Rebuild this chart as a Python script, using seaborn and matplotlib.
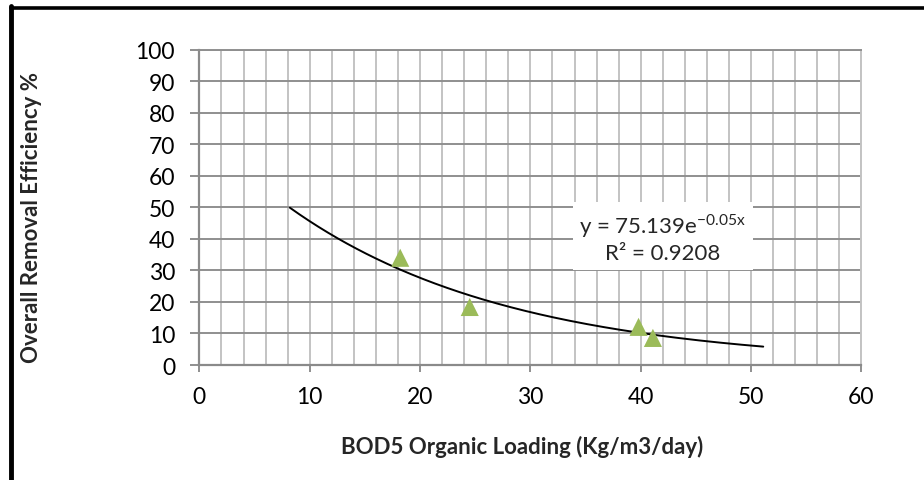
"""Overall removal efficiency vs BOD5 organic loading, Excel-style scatter with exp trendline"""

import numpy as np
import pandas as pd
import matplotlib
matplotlib.use("Agg")
import matplotlib.pyplot as plt
from matplotlib.lines import Line2D
from matplotlib.ticker import MultipleLocator
import seaborn as sns

# data
loading = [18.2, 24.5, 39.8, 41.1]
efficiency = [34.0, 18.4, 12.1, 8.6]

# trendline coefficients as printed on the chart
trend_a = 75.139
trend_b = -0.05
r_squared = 0.9208

x_ticks = [0, 10, 20, 30, 40, 50, 60]
y_ticks = [0, 10, 20, 30, 40, 50, 60, 70, 80, 90, 100]

sns.set_theme(style="white")
plt.rcParams["font.family"] = ["Lato", "DejaVu Sans"]
plt.rcParams["mathtext.fontset"] = "custom"
plt.rcParams["mathtext.rm"] = "Lato"

df = pd.DataFrame({"loading": loading, "efficiency": efficiency})

# excel forecasts the trendline 10 units both ways
trend_x = np.linspace(min(loading) - 10, max(loading) + 10, 200)
trend_df = pd.DataFrame({"x": trend_x, "y": trend_a * np.exp(trend_b * trend_x)})

fig = plt.figure(figsize=(9.24, 4.81), dpi=100)
ax = fig.add_axes([0.2158, 0.239, 0.7165, 0.656])

# grid: light vertical lines every 2, darker horizontal every 10
ax.xaxis.set_minor_locator(MultipleLocator(2))
ax.grid(which="both", axis="x", color="#c3c3c3", linewidth=1.4)
ax.grid(which="major", axis="y", color="#8f8f8f", linewidth=1.4)
ax.set_axisbelow(True)

sns.lineplot(data=trend_df, x="x", y="y", color="black", linewidth=1.4, ax=ax,
             sort=False, zorder=3)
sns.scatterplot(data=df, x="loading", y="efficiency", marker="^", s=170,
                color="#9bbb59", edgecolor="none", ax=ax, zorder=4)

ax.set_xlim(0, 60)
ax.set_ylim(0, 100)
ax.set_xticks(x_ticks)
ax.set_yticks(y_ticks)
ax.tick_params(axis="both", labelsize=16.5, colors="#8f8f8f", labelcolor="black")
ax.tick_params(axis="x", which="major", length=5, width=1.4, pad=10, direction="out", bottom=True)
ax.tick_params(axis="x", which="minor", length=0)
ax.tick_params(axis="y", which="major", length=6.5, width=1.4, pad=11, direction="out", left=True)

for side in ["top", "right"]:
    ax.spines[side].set_color("#c3c3c3")
    ax.spines[side].set_linewidth(1.4)
for side in ["left", "bottom"]:
    ax.spines[side].set_color("#8a8a8a")
    ax.spines[side].set_linewidth(1.6)
ax.spines["top"].set_color("#8f8f8f")

ax.set_xlabel("BOD5 Organic Loading (Kg/m3/day)", fontsize=16, fontweight="bold", va="center")
ax.xaxis.set_label_coords(0.488, -0.255)
ax.set_ylabel("Overall Removal Efficiency %", fontsize=16, fontweight="bold", va="center")
ax.yaxis.set_label_coords(-0.254, 0.472)

eq_text = (f"y = {trend_a}e$^{{\\mathregular{{{trend_b}x}}}}$\n"
           f"R\u00b2 = {r_squared}")
ax.text(42.0, 40.6, eq_text, fontsize=16, ha="center", va="center",
        multialignment="center", linespacing=1.25, zorder=5,
        bbox=dict(boxstyle="square,pad=0.3", facecolor="white", edgecolor="none"))

# chart frame (only top and left edges fall inside the picture)
fig.add_artist(Line2D([10.8 / 924, 1.0], [1 - 9 / 481, 1 - 9 / 481],
                      transform=fig.transFigure, color="black", linewidth=2.6))
fig.add_artist(Line2D([10.8 / 924, 10.8 / 924], [0.0, 1 - 7.2 / 481],
                      transform=fig.transFigure, color="black", linewidth=3.5))

fig.savefig("out.png", dpi=100, facecolor="white")
plt.close(fig)
